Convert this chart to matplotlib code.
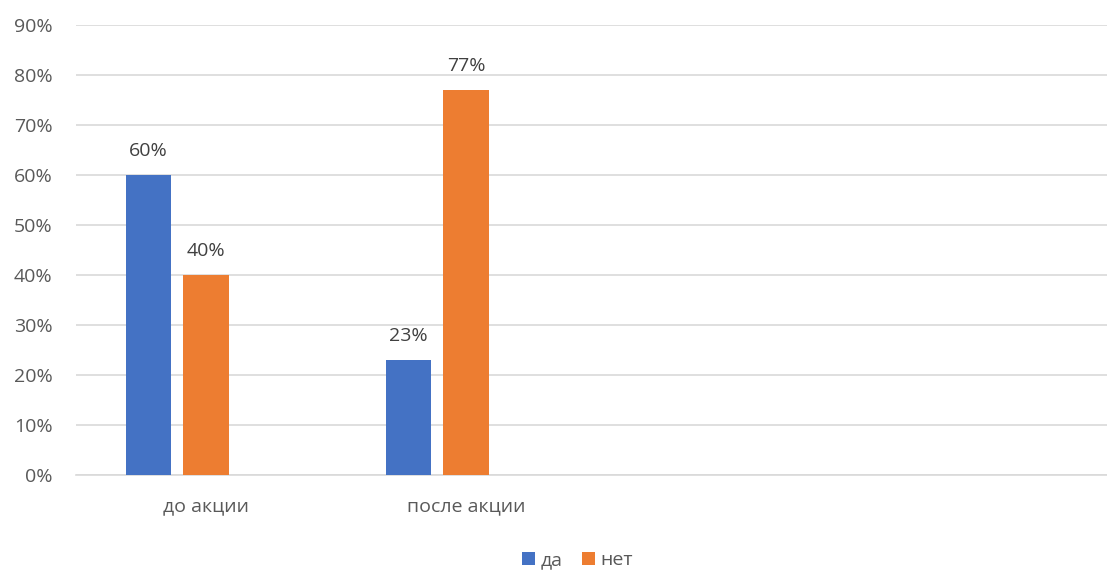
import matplotlib.pyplot as plt
from matplotlib.patches import Patch

categories = ["до акции", "после акции", "", ""]
series_names = ["да", "нет"]
da_values = [60, 23, None, None]
net_values = [40, 77, None, None]
colors = ["#4472C4", "#ED7D31"]
y_ticks = [0, 10, 20, 30, 40, 50, 60, 70, 80, 90]

plt.rcParams['font.family'] = ['Open Sans', 'DejaVu Sans']


def main():
    fig = plt.figure(figsize=(11.07, 5.70), dpi=100)
    ax = fig.add_axes([76 / 1107, 95 / 570, 1040 / 1107, 450 / 570])

    bar_width = 0.175
    step = 0.221
    offsets = [-step, 0.0]

    for values, offset, color in zip([da_values, net_values], offsets, colors):
        for i, v in enumerate(values):
            if v is None:
                continue
            ax.bar(i + offset, v, width=bar_width, color=color, zorder=3)
            ax.text(i + offset, v + 3.0, "{}%".format(v), ha='center', va='bottom',
                    fontsize=14, color='#404040')

    ax.set_xlim(-0.5, len(categories) - 0.5)
    ax.set_ylim(0, 90)
    ax.set_yticks(y_ticks)
    ax.set_yticklabels(["{}%".format(t) for t in y_ticks])
    ax.set_xticks(range(len(categories)))
    ax.set_xticklabels(categories)
    ax.tick_params(axis='both', length=0, labelsize=14, labelcolor='#595959')
    ax.tick_params(axis='y', pad=17)
    ax.tick_params(axis='x', pad=16)
    ax.grid(axis='y', color='#D9D9D9', linewidth=1.2, zorder=0)
    for side in ['top', 'right', 'left']:
        ax.spines[side].set_visible(False)
    ax.spines['bottom'].set_color('#D9D9D9')
    ax.spines['bottom'].set_linewidth(1.2)

    handles = [Patch(facecolor=c, label=n) for c, n in zip(colors, series_names)]
    fig.legend(handles=handles, loc='center', bbox_to_anchor=(0.522, 10 / 570), ncol=2,
               frameon=False, fontsize=14, labelcolor='#595959', handlelength=0.65,
               handleheight=0.65, handletextpad=0.3, columnspacing=1.0)

    fig.savefig("out.png", dpi=100)


if __name__ == "__main__":
    main()
